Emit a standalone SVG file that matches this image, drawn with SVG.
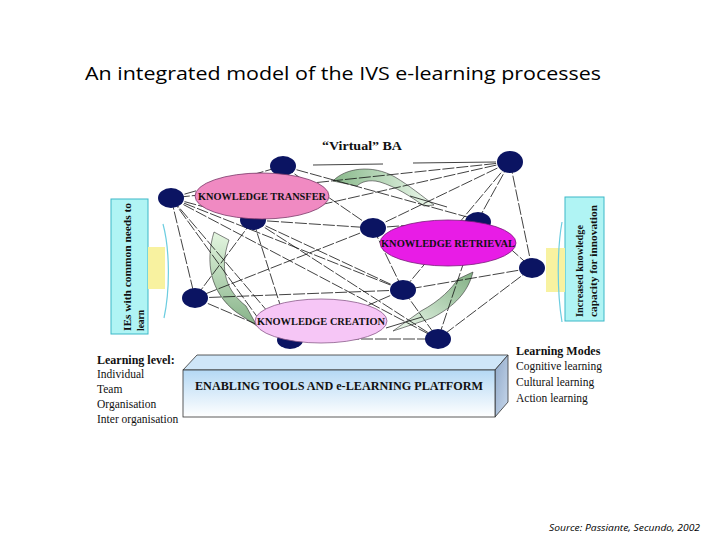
<svg xmlns="http://www.w3.org/2000/svg" width="720" height="540" viewBox="0 0 720 540">
<style>
.title{font-family:"Open Sans","Noto Sans","Liberation Sans",sans-serif;font-size:19px;fill:#000}
.lbl{font-family:"Liberation Serif","DejaVu Serif",serif;font-weight:bold;fill:#111}
.txt{font-family:"Liberation Serif","DejaVu Serif",serif;font-size:11.5px;fill:#111}
.nd{fill:#0b1462}
.ln{stroke:#111;stroke-width:0.8;stroke-dasharray:12 2;fill:none}
.sl{stroke:#111;stroke-width:0.8;fill:none}
.side{fill:#b0f4f4;stroke:#3cb8c8;stroke-width:1}
.yel{fill:#f8f2a0}
.brk{fill:none;stroke:#6ccde0;stroke-width:1.2}
.arr{stroke:#333;stroke-width:0.6}
</style>
<defs>
<linearGradient id="gTop" x1="0" y1="0" x2="1" y2="0"><stop offset="0" stop-color="#88b88a"/><stop offset="1" stop-color="#eefaee"/></linearGradient>
<linearGradient id="gLeft" x1="0" y1="0" x2="0" y2="1"><stop offset="0" stop-color="#e4f6e0"/><stop offset="1" stop-color="#86b288"/></linearGradient>
<linearGradient id="gRight" x1="0" y1="1" x2="1" y2="0"><stop offset="0" stop-color="#eefaee"/><stop offset="1" stop-color="#82b084"/></linearGradient>
<linearGradient id="gFront" x1="0" y1="0" x2="0" y2="1"><stop offset="0" stop-color="#b4d8f4"/><stop offset="1" stop-color="#ffffff"/></linearGradient>
<linearGradient id="gSide" x1="0" y1="0" x2="1" y2="1"><stop offset="0" stop-color="#8fa8c8"/><stop offset="1" stop-color="#c8d8ec"/></linearGradient>
</defs>

<text class="title" x="85" y="80" textLength="516" lengthAdjust="spacingAndGlyphs">An integrated model of the IVS e-learning processes</text>

<text class="lbl" x="322" y="150" font-size="13" textLength="80" lengthAdjust="spacingAndGlyphs">“Virtual” BA</text>

<g id="left-box">
<rect class="side" x="111" y="199" width="37" height="135"/>
<rect class="yel" x="148" y="247" width="17" height="42"/>
<path class="brk" d="M163,224 C170,250 170,290 164,318"/>
<text class="lbl" font-size="9.5" transform="translate(131,331) rotate(-90)" textLength="128" lengthAdjust="spacingAndGlyphs">IEs with common needs to</text>
<text class="lbl" font-size="9.5" transform="translate(144,331) rotate(-90)">learn</text>
</g>

<g id="right-box">
<rect class="side" x="565" y="197" width="39" height="124"/>
<rect class="yel" x="546" y="248" width="19" height="44"/>
<path class="brk" d="M562,222 C557,250 557,292 562,322"/>
<text class="lbl" font-size="9.5" transform="translate(583,317) rotate(-90)" textLength="92" lengthAdjust="spacingAndGlyphs">Increased knowledge</text>
<text class="lbl" font-size="9.5" transform="translate(597,317) rotate(-90)" textLength="112" lengthAdjust="spacingAndGlyphs">capacity for innovation</text>
</g>

<g id="arrows">
<path class="arr" fill="url(#gTop)" d="M333,181 C345,168 372,164 395,177 C410,186 422,196 434,205 L424,206 C410,196 396,187 380,182 C369,179 361,182 357,186 Z"/>
<path class="arr" fill="url(#gLeft)" d="M214,232 C205,262 210,292 236,312 L257,326 L246,306 C228,292 218,272 229,240 Z"/>
<path class="arr" fill="url(#gRight)" d="M473,272 C468,292 455,306 432,318 L393,331 L421,311 C440,301 452,288 458,279 Z"/>
</g>

<g id="connectors">
<line class="sl" x1="313" y1="165" x2="383" y2="164"/>
<line class="sl" x1="413" y1="163" x2="496" y2="162"/>
<line class="ln" x1="171" y1="198" x2="283" y2="166"/>
<line class="ln" x1="171" y1="198" x2="195" y2="298"/>
<line class="ln" x1="171" y1="198" x2="253" y2="220"/>
<line class="ln" x1="171" y1="198" x2="403" y2="290"/>
<line class="ln" x1="171" y1="198" x2="438" y2="339"/>
<line class="ln" x1="171" y1="198" x2="291" y2="339"/>
<line class="ln" x1="171" y1="198" x2="258" y2="318"/>
<line class="ln" x1="283" y1="166" x2="373" y2="228"/>
<line class="ln" x1="283" y1="166" x2="478" y2="220"/>
<line class="ln" x1="510" y1="162" x2="253" y2="220"/>
<line class="ln" x1="510" y1="162" x2="171" y2="198"/>
<line class="ln" x1="510" y1="162" x2="373" y2="228"/>
<line class="ln" x1="510" y1="162" x2="478" y2="220"/>
<line class="ln" x1="510" y1="162" x2="403" y2="290"/>
<line class="ln" x1="510" y1="162" x2="532" y2="268"/>
<line class="ln" x1="253" y1="220" x2="195" y2="298"/>
<line class="ln" x1="253" y1="220" x2="291" y2="339"/>
<line class="ln" x1="253" y1="220" x2="403" y2="290"/>
<line class="ln" x1="253" y1="220" x2="438" y2="339"/>
<line class="ln" x1="253" y1="220" x2="373" y2="228"/>
<line class="ln" x1="373" y1="228" x2="478" y2="220"/>
<line class="ln" x1="373" y1="228" x2="403" y2="290"/>
<line class="ln" x1="373" y1="228" x2="195" y2="298"/>
<line class="ln" x1="478" y1="220" x2="532" y2="268"/>
<line class="ln" x1="478" y1="220" x2="438" y2="339"/>
<line class="ln" x1="532" y1="268" x2="403" y2="290"/>
<line class="ln" x1="532" y1="268" x2="438" y2="339"/>
<line class="ln" x1="403" y1="290" x2="438" y2="339"/>
<line class="ln" x1="403" y1="290" x2="195" y2="298"/>
<line class="ln" x1="403" y1="290" x2="291" y2="339"/>
<line class="ln" x1="195" y1="298" x2="291" y2="339"/>
<line class="ln" x1="291" y1="339" x2="438" y2="339"/>
<line class="sl" x1="410" y1="196" x2="447" y2="207"/>
<line class="sl" x1="386" y1="328" x2="422" y2="317"/>
</g>

<g id="nodes">
<ellipse id="n1" class="nd" cx="283" cy="166" rx="13" ry="10"/>
<ellipse id="n2" class="nd" cx="510" cy="162" rx="13" ry="11"/>
<ellipse id="n3" class="nd" cx="171" cy="198" rx="13" ry="10"/>
<ellipse id="n4" class="nd" cx="253" cy="220" rx="13" ry="10"/>
<ellipse id="n5" class="nd" cx="373" cy="228" rx="13" ry="10"/>
<ellipse id="n6" class="nd" cx="478" cy="222" rx="13" ry="10"/>
<ellipse id="n7" class="nd" cx="532" cy="268" rx="13" ry="10"/>
<ellipse id="n8" class="nd" cx="403" cy="290" rx="13" ry="10"/>
<ellipse id="n9" class="nd" cx="438" cy="339" rx="13" ry="10"/>
<ellipse id="n10" class="nd" cx="195" cy="298" rx="13" ry="10"/>
<ellipse id="n11" class="nd" cx="290" cy="340" rx="13" ry="9"/>
</g>

<g id="knowledge-transfer">
<ellipse cx="262" cy="196" rx="67" ry="23" fill="#f08ac2" stroke="#7a3a6a" stroke-width="0.8"/>
<text class="lbl" x="262" y="200" font-size="10" text-anchor="middle" textLength="128" lengthAdjust="spacingAndGlyphs">KNOWLEDGE TRANSFER</text>
</g>
<g id="knowledge-retrieval">
<ellipse cx="448" cy="243" rx="68" ry="23" fill="#e81ce6" stroke="#7a1a7a" stroke-width="0.8"/>
<text class="lbl" x="448" y="247" font-size="10" text-anchor="middle" textLength="134" lengthAdjust="spacingAndGlyphs">KNOWLEDGE RETRIEVAL</text>
</g>
<g id="knowledge-creation">
<ellipse cx="321" cy="321" rx="66" ry="22" fill="#f6c6f6" stroke="#8a5a8a" stroke-width="0.8"/>
<text class="lbl" x="321" y="325" font-size="10" text-anchor="middle" textLength="128" lengthAdjust="spacingAndGlyphs">KNOWLEDGE CREATION</text>
</g>

<g id="platform">
<polygon points="183,370 197,355 508,355 495,370" fill="#cfe6f8" stroke="#333" stroke-width="0.8"/>
<polygon points="495,370 508,355 508,402 495,417" fill="url(#gSide)" stroke="#333" stroke-width="0.8"/>
<rect x="183" y="370" width="312" height="47" fill="url(#gFront)" stroke="#333" stroke-width="0.8"/>
<text class="lbl" x="195" y="390" font-size="11.5" textLength="288" lengthAdjust="spacingAndGlyphs">ENABLING TOOLS AND e-LEARNING PLATFORM</text>
</g>

<g id="learning-level">
<text class="lbl" x="97" y="364" font-size="12">Learning level:</text>
<text class="txt" x="97" y="378">Individual</text>
<text class="txt" x="97" y="393">Team</text>
<text class="txt" x="97" y="408">Organisation</text>
<text class="txt" x="97" y="423">Inter organisation</text>
</g>

<g id="learning-modes">
<text class="lbl" x="516" y="355" font-size="12">Learning Modes</text>
<text class="txt" x="516" y="370">Cognitive learning</text>
<text class="txt" x="516" y="386">Cultural learning</text>
<text class="txt" x="516" y="402">Action learning</text>
</g>

<text x="549" y="531" font-family="'Open Sans','Noto Sans','Liberation Sans',sans-serif" font-style="italic" font-size="9" textLength="151" lengthAdjust="spacingAndGlyphs" fill="#000">Source: Passiante, Secundo, 2002</text>
</svg>
